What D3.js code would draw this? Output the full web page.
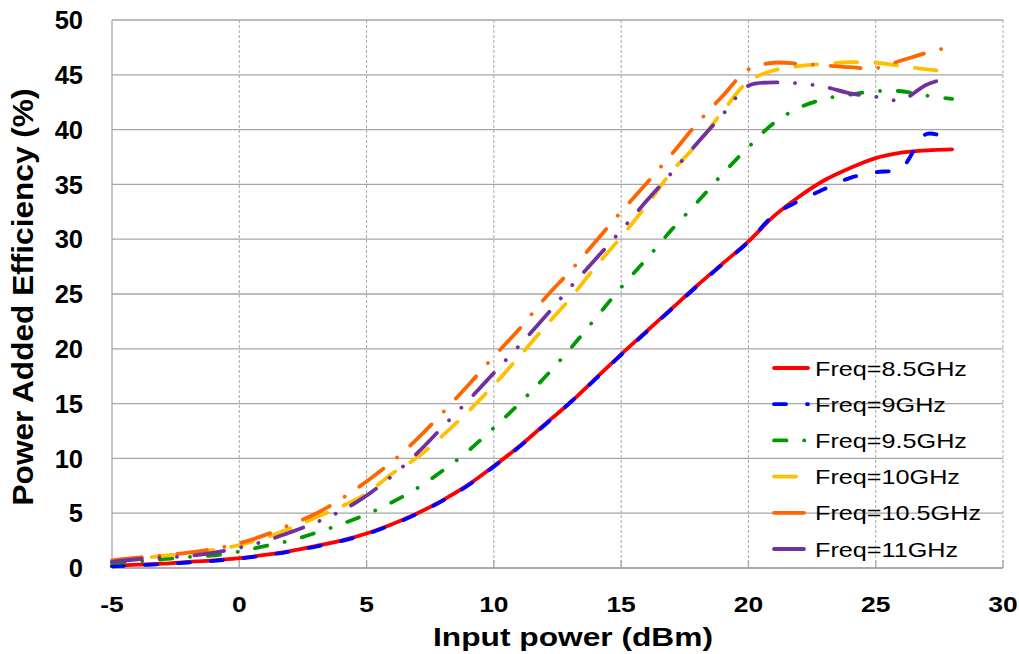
<!DOCTYPE html>
<html>
<head>
<meta charset="utf-8">
<script src="https://cdn.jsdelivr.net/npm/d3@7"></script>
<style>
  body { margin: 0; background: #fff; }
  text { font-family: "Liberation Sans", Arial, sans-serif; fill: #000; }
</style>
</head>
<body>
<script>
// input power (dBm)
var inputPower = [-5, -4, -3, -2, -1, 0, 1, 2, 3, 4, 5, 6, 7, 8, 9, 10, 11, 12,
                  13, 14, 15, 16, 17, 18, 19, 20, 21, 22, 23, 24, 25, 26, 27, 28];

// PAE (%) per frequency
var pae85 = [0.2, 0.3, 0.4, 0.55, 0.7, 0.9, 1.2, 1.55, 2.0, 2.5, 3.15, 4.0, 5.0, 6.2, 7.6, 9.3, 11.1, 13.1,
             15.1, 17.3, 19.5, 21.6, 23.7, 25.8, 27.8, 29.8, 32.1, 33.9, 35.4, 36.5, 37.4, 37.9, 38.1, 38.2];
var pae9 = [0.15, 0.25, 0.35, 0.5, 0.65, 0.85, 1.15, 1.5, 1.95, 2.45, 3.1, 3.95, 4.95, 6.15, 7.55, 9.25, 11.05, 13.05,
            15.1, 17.25, 19.45, 21.55, 23.65, 25.75, 27.75, 29.75, 32.2, 33.5, 34.6, 35.6, 36.1, 36.5, 39.6, 39.0];
var pae95 = [0.45, 0.6, 0.8, 1.0, 1.15, 1.5, 2.0, 2.5, 3.2, 4.0, 4.9, 6.0, 7.3, 8.9, 10.7, 12.8, 15.0, 17.4,
             20.0, 22.8, 25.6, 28.2, 30.9, 33.4, 36.0, 38.4, 40.6, 42.0, 42.8, 43.2, 43.5, 43.5, 43.1, 42.8];
var pae10 = [0.65, 0.85, 1.1, 1.35, 1.65, 2.1, 2.75, 3.6, 4.6, 5.6, 6.8, 8.6, 10.1, 12.1, 14.3, 16.7, 19.3, 22.0,
             24.6, 27.5, 30.2, 33.1, 36.2, 38.7, 41.7, 44.4, 45.4, 45.8, 46.0, 46.15, 46.1, 45.8, 45.5, 45.25];
var pae105 = [0.7, 0.95, 1.15, 1.4, 1.75, 2.25, 3.0, 3.95, 4.95, 6.3, 7.9, 9.7, 11.8, 14.2, 16.7, 19.3, 21.8, 24.6,
              27.1, 29.8, 32.5, 35.1, 37.8, 40.6, 43.1, 45.5, 46.1, 46.0, 45.85, 45.7, 45.6, 46.3, 47.0, 47.6];
var pae11 = [0.55, 0.8, 0.95, 1.1, 1.4, 1.85, 2.45, 3.25, 4.15, 5.2, 6.6, 8.4, 10.5, 12.9, 15.3, 17.8, 20.3, 22.9,
             25.6, 28.2, 30.8, 33.5, 36.1, 38.8, 41.4, 44.0, 44.3, 44.2, 43.9, 43.3, 43.0, 42.7, 44.1, 44.8];

var seriesNames = ["Freq=8.5GHz", "Freq=9GHz", "Freq=9.5GHz", "Freq=10GHz", "Freq=10.5GHz", "Freq=11GHz"];
var xTicks = [-5, 0, 5, 10, 15, 20, 25, 30];
var yTicks = [0, 5, 10, 15, 20, 25, 30, 35, 40, 45, 50];

var series = [pae85, pae9, pae95, pae10, pae105, pae11];
var colors = ["#ff0000", "#0000ff", "#009900", "#ffc000", "#ff6600", "#7030a0"];
var dashes = [null, "12,21", "12.5,17.7,0.1,17.7", "22,18", "30,17.7,0.1,17.7", "30,17.5,0.1,17.5,0.1,17.5"];

var W = 1019, H = 654;
var margin = {top: 20, right: 16, bottom: 86, left: 112};
var width = W - margin.left - margin.right,
    height = H - margin.top - margin.bottom;

// text is a bit wider than the plain font in the original
function widen(sel, k) {
  sel.each(function() {
    var len = this.getComputedTextLength();
    d3.select(this).attr("textLength", len * k).attr("lengthAdjust", "spacingAndGlyphs");
  });
}

var svg = d3.select("body").append("svg")
    .attr("width", W)
    .attr("height", H);

var g = svg.append("g")
    .attr("transform", "translate(" + margin.left + "," + margin.top + ")");

var x = d3.scaleLinear().domain([-5, 30]).range([0, width]);
var y = d3.scaleLinear().domain([0, 50]).range([height, 0]);

// horizontal gridlines (solid)
g.selectAll(".hgrid")
    .data(yTicks)
  .enter().append("line")
    .attr("x1", 0).attr("x2", width)
    .attr("y1", d => y(d)).attr("y2", d => y(d))
    .attr("stroke", "#a6a6a6")
    .attr("stroke-width", 1.3);

// vertical gridlines (dashed)
g.selectAll(".vgrid")
    .data(xTicks.slice(1))
  .enter().append("line")
    .attr("x1", d => x(d)).attr("x2", d => x(d))
    .attr("y1", 0).attr("y2", height)
    .attr("stroke", "#a6a6a6")
    .attr("stroke-width", 1)
    .attr("stroke-dasharray", "3,2");

// axis lines
g.append("line").attr("x1", 0).attr("x2", 0).attr("y1", 0).attr("y2", height)
    .attr("stroke", "#a6a6a6").attr("stroke-width", 1.3);
g.append("line").attr("x1", 0).attr("x2", width).attr("y1", height).attr("y2", height)
    .attr("stroke", "#a6a6a6").attr("stroke-width", 1.3);

// tick marks on x axis
g.selectAll(".xtick")
    .data(xTicks)
  .enter().append("line")
    .attr("x1", d => x(d)).attr("x2", d => x(d))
    .attr("y1", height - 8).attr("y2", height)
    .attr("stroke", "#a6a6a6").attr("stroke-width", 1.3);

// tick labels
g.selectAll(".ylab")
    .data(yTicks)
  .enter().append("text")
    .attr("x", -29)
    .attr("y", d => y(d))
    .attr("dy", "0.36em")
    .attr("text-anchor", "end")
    .style("font-size", "25.5px")
    .style("font-weight", "bold")
    .text(d => d);

g.selectAll(".xlab")
    .data(xTicks)
  .enter().append("text")
    .attr("x", d => x(d))
    .attr("y", height + 44)
    .attr("text-anchor", "middle")
    .style("font-size", "22px")
    .style("font-weight", "bold")
    .text(d => d)
    .call(widen, 1.2);

// axis titles
svg.append("text")
    .attr("transform", "translate(33,297) rotate(-90)")
    .attr("text-anchor", "middle")
    .style("font-size", "29px")
    .style("font-weight", "bold")
    .attr("textLength", 417)
    .attr("lengthAdjust", "spacingAndGlyphs")
    .text("Power Added Efficiency (%)");

svg.append("text")
    .attr("x", 573)
    .attr("y", 646)
    .attr("text-anchor", "middle")
    .style("font-size", "25px")
    .style("font-weight", "bold")
    .attr("textLength", 280)
    .attr("lengthAdjust", "spacingAndGlyphs")
    .text("Input power (dBm)");

// curves
var line = d3.line()
    .x((d, i) => x(inputPower[i]))
    .y(d => y(d))
    .curve(d3.curveCatmullRom.alpha(0.5));

g.selectAll(".curve")
    .data(series)
  .enter().append("path")
    .attr("d", d => line(d))
    .attr("fill", "none")
    .attr("stroke", (d, i) => colors[i])
    .attr("stroke-width", 3.8)
    .attr("stroke-linecap", "round")
    .attr("stroke-dasharray", (d, i) => dashes[i]);

// legend
var legend = svg.append("g").attr("transform", "translate(774,368)");
var item = legend.selectAll(".item")
    .data(seriesNames)
  .enter().append("g")
    .attr("transform", (d, i) => "translate(0," + (i * 36.2) + ")");

item.append("line")
    .attr("x1", 0).attr("x2", 34)
    .attr("stroke", (d, i) => colors[i])
    .attr("stroke-width", 3.8)
    .attr("stroke-linecap", "round")
    .attr("stroke-dasharray", (d, i) => dashes[i]);

item.append("text")
    .attr("x", 41)
    .attr("dy", "0.36em")
    .style("font-size", "21px")
    .text(d => d)
    .call(widen, 1.2);
</script>
</body>
</html>
